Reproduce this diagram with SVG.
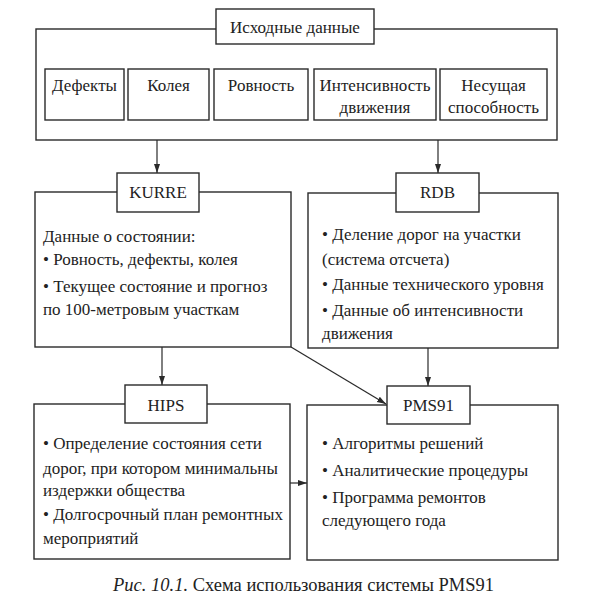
<svg xmlns="http://www.w3.org/2000/svg" width="594" height="607" viewBox="0 0 594 607" font-family="'Liberation Serif', 'DejaVu Serif', serif">
<defs>
<style>
.b{fill:#fff;stroke:#2a2a2a;stroke-width:1.4}
.f{fill:none;stroke:#2a2a2a;stroke-width:1.4}
.t{font-family:'Liberation Serif', 'DejaVu Serif', serif;font-size:17px;fill:#222}
.c{text-anchor:middle}
.l{fill:none;stroke:#2a2a2a;stroke-width:1.2}
</style>
<marker id="a" markerWidth="10" markerHeight="8" refX="9" refY="4" orient="auto" markerUnits="userSpaceOnUse">
<path d="M0,1 L9,4 L0,7 Z" fill="#2a2a2a"/>
</marker>
</defs>
<rect width="594" height="607" fill="#fff"/>
<g id="src">
<rect class="f" x="36" y="29" width="521" height="111"/>
<rect class="b" x="216" y="9" width="158" height="35"/>
<text class="t c" x="295" y="33">Исходные данные</text>
<rect class="b" x="45" y="69" width="79" height="51"/>
<text class="t c" x="84.5" y="91">Дефекты</text>
<rect class="b" x="128" y="69" width="81" height="51"/>
<text class="t c" x="168.5" y="91">Колея</text>
<rect class="b" x="214" y="69" width="94" height="51"/>
<text class="t c" x="261" y="91">Ровность</text>
<rect class="b" x="314" y="69" width="122" height="51"/>
<text class="t c" x="375" y="91">Интенсивность</text>
<text class="t c" x="375" y="113">движения</text>
<rect class="b" x="440" y="69" width="107" height="51"/>
<text class="t c" x="493.5" y="91">Несущая</text>
<text class="t c" x="493.5" y="113">способность</text>
</g>
<g id="connectors">
<line class="l" x1="157" y1="140" x2="157" y2="173" marker-end="url(#a)"/>
<line class="l" x1="438" y1="140" x2="438" y2="173" marker-end="url(#a)"/>
<line class="l" x1="162" y1="347" x2="162" y2="385" marker-end="url(#a)"/>
<line class="l" x1="428" y1="348" x2="428" y2="386" marker-end="url(#a)"/>
<line class="l" x1="291" y1="347" x2="386" y2="404" marker-end="url(#a)"/>
<line class="l" x1="290" y1="483" x2="307" y2="483" marker-end="url(#a)"/>
</g>
<g id="kurre">
<rect class="f" x="35" y="192" width="256" height="155"/>
<rect class="b" x="117" y="173" width="82" height="39"/>
<text class="t c" x="158" y="198">KURRE</text>
<text class="t" x="43" y="242">Данные о состоянии:</text>
<text class="t" x="43" y="265">• Ровность, дефекты, колея</text>
<text class="t" x="43" y="292">• Текущее состояние и прогноз</text>
<text class="t" x="43" y="315">по 100-метровым участкам</text>
</g>
<g id="rdb">
<rect class="f" x="308" y="193" width="250" height="155"/>
<rect class="b" x="396" y="173" width="83" height="39"/>
<text class="t c" x="437.5" y="198">RDB</text>
<text class="t" x="322" y="240">• Деление дорог на участки</text>
<text class="t" x="322" y="265">(система отсчета)</text>
<text class="t" x="322" y="290">• Данные технического уровня</text>
<text class="t" x="322" y="316">• Данные об интенсивности</text>
<text class="t" x="322" y="339">движения</text>
</g>
<g id="hips">
<rect class="f" x="34" y="404" width="256" height="155"/>
<rect class="b" x="125" y="385" width="82" height="38"/>
<text class="t c" x="166" y="411">HIPS</text>
<text class="t" x="43" y="449">• Определение состояния сети</text>
<text class="t" x="43" y="474">дорог, при котором минимальны</text>
<text class="t" x="43" y="496">издержки общества</text>
<text class="t" x="43" y="520">• Долгосрочный план ремонтных</text>
<text class="t" x="43" y="544">мероприятий</text>
</g>
<g id="pms91">
<rect class="f" x="307" y="405" width="251" height="155"/>
<rect class="b" x="387" y="386" width="83" height="38"/>
<text class="t c" x="428.5" y="411">PMS91</text>
<text class="t" x="322" y="449">• Алгоритмы решений</text>
<text class="t" x="322" y="476">• Аналитические процедуры</text>
<text class="t" x="322" y="503">• Программа ремонтов</text>
<text class="t" x="322" y="526">следующего года</text>
</g>
<text class="t" x="113" y="591" style="font-size:18.5px"><tspan font-style="italic">Рис. 10.1.</tspan> Схема использования системы PMS91</text>
</svg>
